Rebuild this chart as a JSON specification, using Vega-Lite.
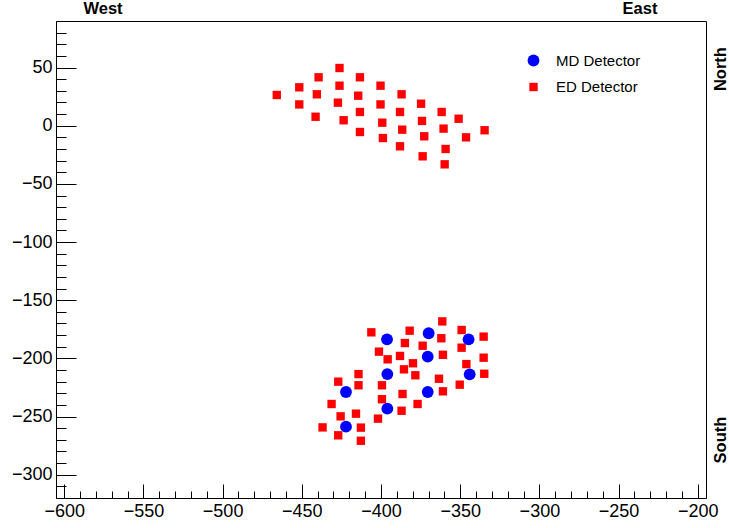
{
  "$schema": "https://vega.github.io/schema/vega-lite/v6.json",
  "width": 650,
  "height": 477,
  "autosize": {"type": "none"},
  "padding": {"left": 56, "top": 21, "right": 23, "bottom": 30},
  "background": "white",
  "config": {
    "font": "Liberation Sans",
    "view": {"stroke": "black", "strokeWidth": 1},
    "axis": {"grid": false, "domainColor": "black", "tickColor": "black", "labelColor": "black", "labelFont": "Liberation Sans", "labelFontSize": 18, "title": null}
  },
  "datasets": {
    "det": [
      {"det": "ED Detector", "x": -465.8, "y": 26.4},
      {"det": "ED Detector", "x": -451.6, "y": 33.0},
      {"det": "ED Detector", "x": -451.6, "y": 18.3},
      {"det": "ED Detector", "x": -439.4, "y": 41.6},
      {"det": "ED Detector", "x": -440.5, "y": 27.0},
      {"det": "ED Detector", "x": -441.3, "y": 7.7},
      {"det": "ED Detector", "x": -426.2, "y": 49.6},
      {"det": "ED Detector", "x": -426.2, "y": 34.4},
      {"det": "ED Detector", "x": -427.2, "y": 19.8},
      {"det": "ED Detector", "x": -423.6, "y": 4.7},
      {"det": "ED Detector", "x": -413.3, "y": 41.6},
      {"det": "ED Detector", "x": -414.4, "y": 25.8},
      {"det": "ED Detector", "x": -413.3, "y": 11.8},
      {"det": "ED Detector", "x": -413.3, "y": -5.4},
      {"det": "ED Detector", "x": -400.3, "y": 34.4},
      {"det": "ED Detector", "x": -400.3, "y": 18.3},
      {"det": "ED Detector", "x": -399.2, "y": 2.6},
      {"det": "ED Detector", "x": -398.8, "y": -10.6},
      {"det": "ED Detector", "x": -387.0, "y": 27.0},
      {"det": "ED Detector", "x": -388.0, "y": 11.8},
      {"det": "ED Detector", "x": -386.6, "y": -3.4},
      {"det": "ED Detector", "x": -388.0, "y": -17.7},
      {"det": "ED Detector", "x": -374.7, "y": 18.9},
      {"det": "ED Detector", "x": -374.1, "y": 4.1},
      {"det": "ED Detector", "x": -372.7, "y": -9.1},
      {"det": "ED Detector", "x": -373.7, "y": -26.3},
      {"det": "ED Detector", "x": -361.7, "y": 11.8},
      {"det": "ED Detector", "x": -360.5, "y": -2.5},
      {"det": "ED Detector", "x": -359.2, "y": -20.0},
      {"det": "ED Detector", "x": -359.8, "y": -33.2},
      {"det": "ED Detector", "x": -351.0, "y": 6.0},
      {"det": "ED Detector", "x": -346.3, "y": -10.0},
      {"det": "ED Detector", "x": -334.6, "y": -3.9},
      {"det": "ED Detector", "x": -361.3, "y": -168.2},
      {"det": "ED Detector", "x": -406.1, "y": -177.6},
      {"det": "ED Detector", "x": -381.9, "y": -176.2},
      {"det": "ED Detector", "x": -349.1, "y": -175.6},
      {"det": "ED Detector", "x": -335.2, "y": -181.3},
      {"det": "ED Detector", "x": -361.9, "y": -182.7},
      {"det": "ED Detector", "x": -384.9, "y": -186.8},
      {"det": "ED Detector", "x": -373.7, "y": -189.1},
      {"det": "ED Detector", "x": -349.1, "y": -190.8},
      {"det": "ED Detector", "x": -401.3, "y": -194.2},
      {"det": "ED Detector", "x": -388.0, "y": -197.9},
      {"det": "ED Detector", "x": -395.8, "y": -200.8},
      {"det": "ED Detector", "x": -360.9, "y": -196.9},
      {"det": "ED Detector", "x": -335.2, "y": -199.4},
      {"det": "ED Detector", "x": -379.8, "y": -204.2},
      {"det": "ED Detector", "x": -346.1, "y": -204.9},
      {"det": "ED Detector", "x": -385.5, "y": -209.4},
      {"det": "ED Detector", "x": -334.8, "y": -213.2},
      {"det": "ED Detector", "x": -414.2, "y": -213.5},
      {"det": "ED Detector", "x": -378.3, "y": -214.5},
      {"det": "ED Detector", "x": -363.4, "y": -217.5},
      {"det": "ED Detector", "x": -427.0, "y": -220.0},
      {"det": "ED Detector", "x": -414.2, "y": -223.1},
      {"det": "ED Detector", "x": -399.4, "y": -223.1},
      {"det": "ED Detector", "x": -350.3, "y": -222.6},
      {"det": "ED Detector", "x": -360.9, "y": -228.3},
      {"det": "ED Detector", "x": -386.4, "y": -230.6},
      {"det": "ED Detector", "x": -431.2, "y": -239.2},
      {"det": "ED Detector", "x": -399.4, "y": -235.1},
      {"det": "ED Detector", "x": -376.9, "y": -239.2},
      {"det": "ED Detector", "x": -415.8, "y": -247.5},
      {"det": "ED Detector", "x": -425.5, "y": -249.8},
      {"det": "ED Detector", "x": -387.0, "y": -245.0},
      {"det": "ED Detector", "x": -401.9, "y": -251.8},
      {"det": "ED Detector", "x": -436.9, "y": -259.3},
      {"det": "ED Detector", "x": -412.7, "y": -259.5},
      {"det": "ED Detector", "x": -427.0, "y": -266.1},
      {"det": "ED Detector", "x": -412.7, "y": -270.8},
      {"det": "MD Detector", "x": -396.2, "y": -183.6},
      {"det": "MD Detector", "x": -369.9, "y": -178.4},
      {"det": "MD Detector", "x": -344.7, "y": -183.6},
      {"det": "MD Detector", "x": -370.5, "y": -198.5},
      {"det": "MD Detector", "x": -396.0, "y": -213.5},
      {"det": "MD Detector", "x": -344.0, "y": -213.7},
      {"det": "MD Detector", "x": -422.1, "y": -228.9},
      {"det": "MD Detector", "x": -370.5, "y": -228.9},
      {"det": "MD Detector", "x": -396.0, "y": -243.2},
      {"det": "MD Detector", "x": -422.1, "y": -258.7}
    ],
    "hlabels": [
      {"label": "West", "x": -575.5, "y": 95.8},
      {"label": "East", "x": -236.5, "y": 95.8}
    ],
    "vlabels": [
      {"label": "North", "x": -185.4, "y": 48.7},
      {"label": "South", "x": -185.4, "y": -270.2}
    ]
  },
  "resolve": {"axis": {"x": "independent", "y": "independent"}},
  "layer": [
    {
      "data": {"name": "det"},
      "mark": {"type": "point", "filled": true, "opacity": 1, "strokeWidth": 0},
      "encoding": {
        "x": {"field": "x", "type": "quantitative", "scale": {"domain": [-605.2, -194.8], "nice": false, "zero": false},
              "axis": {"orient": "bottom", "values": [-600, -550, -500, -450, -400, -350, -300, -250, -200], "tickSize": -14, "labelPadding": 18, "domain": true}},
        "y": {"field": "y", "type": "quantitative", "scale": {"domain": [-320, 90], "nice": false, "zero": false},
              "axis": {"orient": "left", "values": [-300, -250, -200, -150, -100, -50, 0, 50], "tickSize": -20, "labelPadding": 24, "domain": true}},
        "color": {"field": "det", "type": "nominal", "scale": {"domain": ["MD Detector", "ED Detector"], "range": ["#0000ff", "#ff0000"]},
                  "legend": {"orient": "none", "legendX": 470, "legendY": 32, "title": null, "labelFontSize": 15, "labelFont": "Liberation Sans", "labelColor": "black", "labelOffset": 15, "rowPadding": 10.5, "padding": 0}},
        "shape": {"field": "det", "type": "nominal", "scale": {"domain": ["MD Detector", "ED Detector"], "range": ["circle", "square"]}},
        "size": {"field": "det", "type": "nominal", "scale": {"domain": ["MD Detector", "ED Detector"], "range": [140, 70]}}
      }
    },
    {
      "data": {"name": "hlabels"},
      "mark": {"type": "text", "font": "Liberation Sans", "fontWeight": "bold", "fontSize": 16.5, "align": "center", "baseline": "alphabetic", "color": "black"},
      "encoding": {
        "x": {"field": "x", "type": "quantitative",
              "axis": {"orient": "bottom", "values": [-600,-590,-580,-570,-560,-540,-530,-520,-510,-490,-480,-470,-460,-440,-430,-420,-410,-390,-380,-370,-360,-340,-330,-320,-310,-290,-280,-270,-260,-240,-230,-220,-210], "tickSize": -7, "labels": false, "domain": false}},
        "y": {"field": "y", "type": "quantitative",
              "axis": {"orient": "left", "values": [-310,-290,-280,-270,-260,-240,-230,-220,-210,-190,-180,-170,-160,-140,-130,-120,-110,-90,-80,-70,-60,-40,-30,-20,-10,10,20,30,40,60,70,80], "tickSize": -10, "labels": false, "domain": false}},
        "text": {"field": "label", "type": "nominal"}
      }
    },
    {
      "data": {"name": "vlabels"},
      "mark": {"type": "text", "font": "Liberation Sans", "fontWeight": "bold", "fontSize": 16.5, "align": "center", "baseline": "middle", "angle": 270, "color": "black"},
      "encoding": {
        "x": {"field": "x", "type": "quantitative", "axis": null},
        "y": {"field": "y", "type": "quantitative", "axis": null},
        "text": {"field": "label", "type": "nominal"}
      }
    }
  ]
}
